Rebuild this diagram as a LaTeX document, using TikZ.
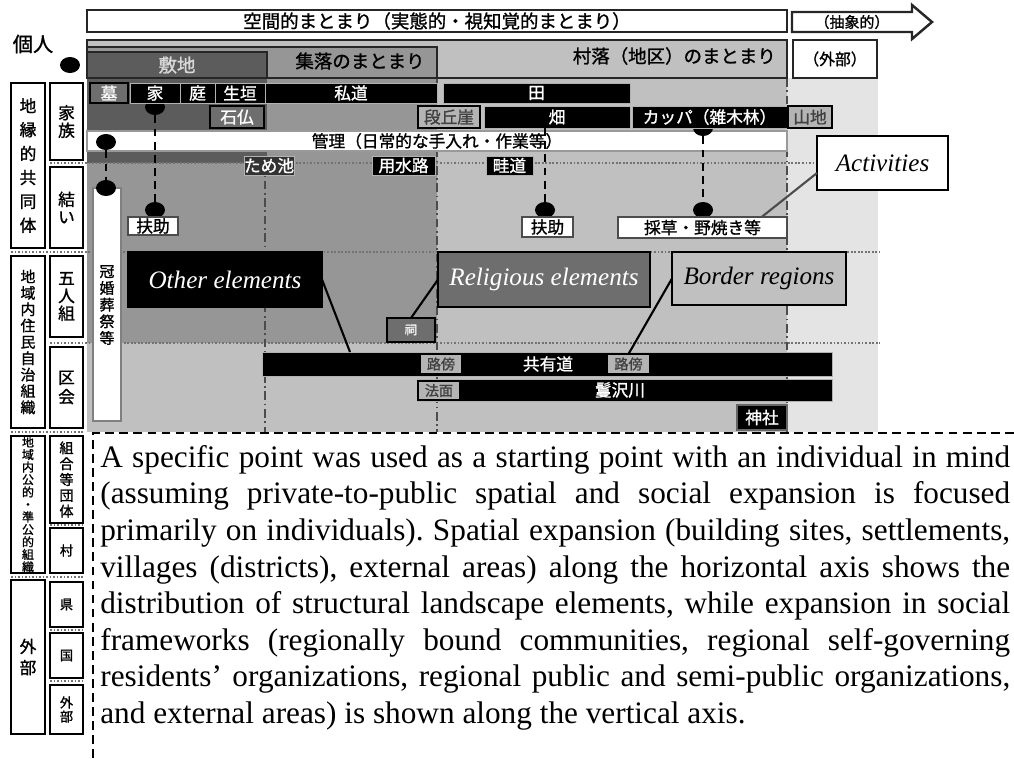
\documentclass[tikz,border=0pt]{standalone}
\usepackage{fontspec}
\setmainfont{Liberation Serif}
\newfontfamily\jp{Noto Sans CJK JP}[FakeBold=1.2]
\usetikzlibrary{shapes.geometric, calc}

\definecolor{plotgray}{RGB}{92,92,92}
\definecolor{setlgray}{RGB}{150,150,150}
\definecolor{vilgray}{RGB}{192,192,192}
\definecolor{extgray}{RGB}{228,228,228}
\definecolor{tagdark}{RGB}{110,110,110}
\definecolor{taglight}{RGB}{180,180,180}

\tikzset{
  jpf/.style  = {font=\jp\fontsize{9.5}{10}\selectfont},
  wh/.style 2 args = {minimum width={(#1)*0.02cm}, minimum height={(#2)*0.02cm}},
  cell/.style = {inner sep=0pt, outer sep=0pt, anchor=north west, jpf},
  blk/.style  = {cell, fill=black, draw=gray!60, line width=0.5pt, text=white},
  dtag/.style = {cell, fill=tagdark, draw=black, line width=1.2pt, text=white},
  ltag/.style = {cell, fill=taglight, draw=black, line width=1.2pt, text=black!75},
  wtag/.style = {cell, fill=white, draw=black!70, line width=1.2pt},
  hdr/.style  = {cell, draw=black!85, line width=1.4pt, font=\jp\fontsize{10.5}{11}\selectfont},
  vlab/.style = {cell, fill=white, draw=black, line width=1.4pt, align=center},
  callout/.style = {cell, draw=black, line width=1.4pt, font=\fontsize{14.3}{15}\selectfont\itshape},
  dot/.style  = {ellipse, fill=black, minimum width=0.4cm, minimum height=0.32cm, inner sep=0pt},
  tie/.style  = {line width=1.6pt, dash pattern=on 4.5pt off 3pt},
  guide/.style = {line width=0.9pt, black!55, dash pattern=on 1pt off 1pt},
  zone/.style = {line width=0.7pt, black!70, dash pattern=on 5pt off 2pt on 1pt off 2pt},
  lead/.style = {line width=1.2pt, black}
}

\begin{document}
\begin{tikzpicture}[x=0.02cm, y=-0.02cm]
  \useasboundingbox (0,0) rectangle (1014,758);

  %% spatial zones
  \fill[vilgray]  (87,40) rectangle (787,432);
  \fill[extgray]  (787,78) rectangle (878,432);
  \fill[setlgray] (87,47) rectangle (437,343);
  \fill[plotgray] (87,52) rectangle (267,163);

  \draw[guide] (50,163) -- (880,163);
  \draw[guide] (11,252) -- (880,252);
  \draw[guide] (50,343) -- (880,343);
  \draw[guide] (11,432) -- (83,432);
  \draw[guide] (50,525) -- (83,525);
  \draw[guide] (11,577) -- (83,577);
  \draw[guide] (50,630) -- (83,630);
  \draw[guide] (50,681) -- (83,681);
  \draw[zone] (265,163) -- (265,432);
  \draw[zone] (437,78) -- (437,432);
  \draw[zone] (787,78) -- (787,432);

  %% top arrow
  \node[hdr, fill=white, wh={700}{22}] (span) at (87,10) {空間的まとまり（実態的・視知覚的まとまり）};
  \draw[line width=1.4pt, black!85, fill=white] (792,12) -- (912,12) -- (912,5) -- (932,22)
    -- (912,39) -- (912,32) -- (792,32) -- cycle;
  \node[font=\jp\fontsize{8.5}{9}\selectfont] (abst) at (852,22) {（抽象的）};

  \node[font=\jp\fontsize{11.5}{12}\selectfont] (kojin) at (33,44) {個人};
  \node[dot] (d0) at (70,65) {};

  %% headers
  \node[hdr, wh={700}{38}, fill=vilgray] (vil) at (87,40) {};
  \node[hdr, wh={350}{31}, fill=setlgray] (setl) at (87,47) {};
  \node[hdr, wh={180}{26}, fill=plotgray, text=white!85!black] (plot) at (87,52) {敷地};
  \node[hdr, wh={84}{38}, fill=white, font=\jp\fontsize{9}{9}\selectfont] (ext) at (793,40) {（外部）};
  \node[font=\jp\fontsize{10.5}{11}\selectfont] (setltx) at (360,61) {集落のまとまり};
  \node[font=\jp\fontsize{10.5}{11}\selectfont, anchor=east] (viltx) at (782,56) {村落（地区）のまとまり};

  %% management bar and hidden dots
  \node[cell, fill=white, draw=black!40, line width=0.6pt, wh={700}{20}] (kanri) at (87,131) {管理（日常的な手入れ・作業等）};
  \node[dot] (d3) at (155,107) {};
  \node[dot] (d6) at (703,128) {};

  %% row 1
  \node[dtag, wh={38}{20}] (haka) at (90,83) {墓};
  \node[blk, wh={50}{20}] (ie) at (130,83) {家};
  \node[blk, wh={35}{20}] (niwa) at (180,83) {庭};
  \node[blk, wh={50}{20}] (ikegaki) at (215,83) {生垣};
  \node[blk, wh={172}{20}] (shido) at (265,83) {私道};
  \node[blk, wh={187}{20}] (ta) at (443,83) {田};

  %% row 2
  \node[dtag, wh={54}{22}] (sekibutsu) at (210,106) {石仏};
  \node[ltag, wh={62}{22}] (dankyu) at (418,106) {段丘崖};
  \node[blk, wh={146}{22}] (hata) at (484,106) {畑};
  \node[blk, wh={155}{22}] (kappa) at (632,106) {カッパ（雑木林）};
  \node[ltag, wh={44}{22}] (sanchi) at (788,106) {山地};

  %% on the dotted line
  \node[blk, fill=black!80, wh={50}{19}] (tameike) at (244,156) {ため池};
  \node[blk, wh={63}{19}] (yosui) at (372,156) {用水路};
  \node[blk, wh={47}{19}] (azemichi) at (486,156) {畦道};

  %% activities
  \node[cell, fill=white, draw=black!50, line width=1pt, wh={28}{233}] (kankon) at (93,188) {};
  \node[font=\jp\fontsize{8.5}{9.5}\selectfont, align=center] (kankontx) at (107,305) {冠\\婚\\葬\\祭\\等};
  \node[dot] (d1) at (106,142) {};
  \node[dot] (d2) at (106,188) {};
  \node[dot] (d4) at (155,210) {};
  \node[dot] (d5) at (545,210) {};
  \node[dot] (d7) at (703,210) {};
  \coordinate (hataB) at (545,128);
  \draw[tie] (d1) -- (d2);
  \draw[tie] (d3) -- (d4);
  \draw[tie] (hataB) -- (d5);
  \draw[tie] (d6) -- (d7);
  \node[wtag, wh={50}{18}] (fujo1) at (128,217) {扶助};
  \node[wtag, wh={51}{20}] (fujo2) at (522,217) {扶助};
  \node[wtag, wh={169}{21}] (saiso) at (618,217) {採草・野焼き等};
  \node[callout, fill=white, wh={131}{54}] (act) at (817,136) {Activities};
  \draw[lead, black!70] ($(act.west)+(0,10)$) -- ($(saiso.north)!0.7!(saiso.north east)$);

  %% elements
  \node[callout, fill=black, text=white, wh={194}{55}] (other) at (128,252) {Other elements};
  \node[callout, fill=tagdark, text=white, wh={212}{55}] (relig) at (438,252) {Religious elements};
  \node[callout, fill=vilgray, wh={174}{53}] (border) at (672,252) {Border regions};
  \node[dtag, wh={48}{24}, font=\jp\fontsize{7}{7}\selectfont] (hokora) at (387,318) {祠};

  \node[blk, wh={570}{24}] (kyoyu) at (262,352) {};
  \node[ltag, wh={42}{20}, font=\jp\fontsize{8}{8}\selectfont] (robo1) at (420,354) {路傍};
  \node[jpf, text=white] (kyoyutx) at (548,364) {共有道};
  \node[ltag, wh={43}{20}, font=\jp\fontsize{8}{8}\selectfont] (robo2) at (607,354) {路傍};
  \node[blk, wh={415}{22}] (river) at (417,379) {};
  \node[ltag, wh={42}{19}, font=\jp\fontsize{8}{8}\selectfont] (norimen) at (418,381) {法面};
  \node[jpf, text=white] (rivertx) at (620,390) {鬘沢川};
  \node[blk, draw=black!60, line width=1.2pt, wh={50}{25}] (jinja) at (737,405) {神社};

  \coordinate (kyoyuT) at (350,352);
  \draw[lead] (other.east) -- (kyoyuT);
  \draw[lead] (relig.west) -- (hokora.north);
  \draw[lead] (border.west) -- (robo2.north);

  %% social frameworks
  \node[vlab, wh={34}{165}, font=\jp\fontsize{9.5}{13.6}\selectfont] (chien) at (11,83) {地\\縁\\的\\共\\同\\体};
  \node[vlab, wh={34}{172}, font=\jp\fontsize{8.5}{9.3}\selectfont] (jichi) at (11,256) {地\\域\\内\\住\\民\\自\\治\\組\\織};
  \node[vlab, wh={34}{137}, font=\jp\fontsize{6.8}{7.1}\selectfont] (kouteki) at (11,436) {地\\域\\内\\公\\的\\・\\準\\公\\的\\組\\織};
  \node[vlab, wh={34}{154}, font=\jp\fontsize{9.5}{12}\selectfont] (gaibu1) at (11,580) {外\\部};
  \node[vlab, wh={33}{77}, font=\jp\fontsize{9.5}{10}\selectfont] (kazoku) at (50,83) {家\\族};
  \node[vlab, wh={33}{81}, font=\jp\fontsize{9.5}{10}\selectfont] (yui) at (50,167) {結\\い};
  \node[vlab, wh={33}{81}, font=\jp\fontsize{9.5}{10}\selectfont] (goningumi) at (50,256) {五\\人\\組};
  \node[vlab, wh={33}{81}, font=\jp\fontsize{9.5}{11}\selectfont] (kukai) at (50,347) {区\\会};
  \node[vlab, wh={33}{87}, font=\jp\fontsize{8}{9}\selectfont] (kumiai) at (50,436) {組\\合\\等\\団\\体};
  \node[vlab, wh={33}{45}, font=\jp\fontsize{7.5}{8}\selectfont] (mura) at (50,528) {村};
  \node[vlab, wh={33}{45}, font=\jp\fontsize{7.5}{8}\selectfont] (ken) at (50,582) {県};
  \node[vlab, wh={33}{45}, font=\jp\fontsize{7.5}{8}\selectfont] (kuni) at (50,633) {国};
  \node[vlab, wh={33}{49}, font=\jp\fontsize{7.5}{8}\selectfont] (gaibu2) at (50,685) {外\\部};

  %% caption
  \draw[line width=1.2pt, dash pattern=on 5pt off 3pt] (93,758) -- (93,433) -- (1014,433);
  \node[anchor=north west, inner sep=0pt, text width=18.2cm, align=justify,
        font=\fontsize{17.8}{20.8}\selectfont\frenchspacing] (para) at (100,445)
    {A specific point was used as a starting point with an individual in mind\linebreak
     (assuming private-to-public spatial and social expansion is focused\linebreak
     primarily on individuals). Spatial expansion (building sites, settlements,\linebreak
     villages (districts), external areas) along the horizontal axis shows the\linebreak
     distribution of structural landscape elements, while expansion in social\linebreak
     frameworks (regionally bound communities, regional self-governing\linebreak
     residents' organizations, regional public and semi-public organizations,\linebreak
     and external areas) is shown along the vertical axis.};
\end{tikzpicture}
\end{document}
